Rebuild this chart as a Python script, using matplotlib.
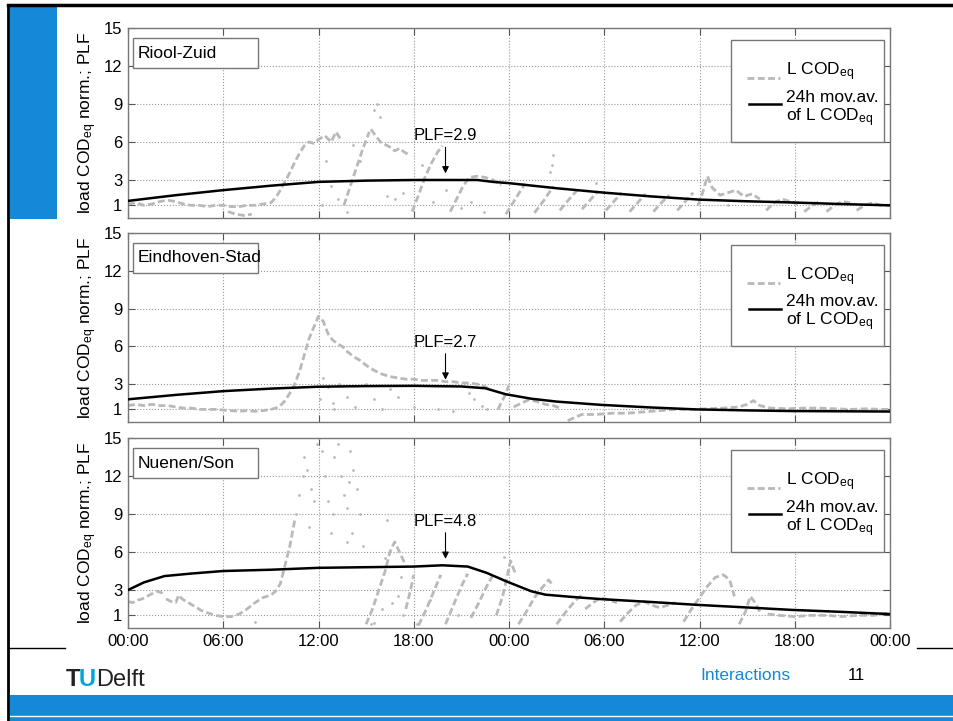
import matplotlib
matplotlib.use("Agg")
import matplotlib.pyplot as plt
from matplotlib.patches import Rectangle
from matplotlib.lines import Line2D
import numpy as np

plt.rcParams['font.family'] = ['Liberation Sans', 'DejaVu Sans']
plt.rcParams['mathtext.fontset'] = 'custom'
plt.rcParams['mathtext.rm'] = 'Liberation Sans'
plt.rcParams['mathtext.it'] = 'Liberation Sans:italic'

nan = np.nan

stations = ["Riool-Zuid", "Eindhoven-Stad", "Nuenen/Son"]
plf_values = [2.9, 2.7, 4.8]
plf_hour = 20.0
hour_ticks = [0, 6, 12, 18, 24, 30, 36, 42, 48]
hour_labels = ["00:00", "06:00", "12:00", "18:00", "00:00", "06:00", "12:00", "18:00", "00:00"]
y_ticks = [1, 3, 6, 9, 12, 15]

# 24h moving average (black)
ma_t1 = [0, 3, 6, 9, 12, 15, 18, 21, 22, 23, 24, 27, 30, 33, 36, 39, 42, 45, 48]
ma_v1 = [1.35, 1.8, 2.2, 2.55, 2.85, 2.95, 3.0, 3.0, 3.0, 2.85, 2.75, 2.35, 2.0, 1.7, 1.45, 1.32, 1.22, 1.1, 1.0]
ma_t2 = [0, 3, 6, 9, 12, 15, 18, 21, 22.5, 23.8, 25.4, 27, 29.8, 33, 35.8, 39, 41.8, 45, 48]
ma_v2 = [1.8, 2.15, 2.45, 2.65, 2.8, 2.85, 2.87, 2.82, 2.68, 2.2, 1.85, 1.62, 1.36, 1.15, 1.0, 0.92, 0.87, 0.85, 0.83]
ma_t3 = [0, 1, 2.3, 4, 6, 9, 12, 15, 18, 19.8, 21.4, 22.6, 23.8, 25.4, 26.3, 28, 29.8, 33, 35.8, 39, 41.8, 45, 48]
ma_v3 = [3.0, 3.6, 4.1, 4.3, 4.5, 4.6, 4.75, 4.8, 4.85, 4.95, 4.85, 4.35, 3.7, 2.9, 2.63, 2.45, 2.28, 2.05, 1.83, 1.62, 1.43, 1.27, 1.1]

# L COD_eq (grey), nan = gap in the record
cod_t1 = [0, 0.5, 1, 1.5, 2, 2.5, 3, 3.5, 4, 4.5, 5, 5.5, 6, 6.5, 7, 7.5, 8, 8.5, 9, 9.3, 9.6, 9.9, 10.2, 10.5, 10.8,
          11.1, 11.4, 11.7, 12, 12.4, 12.8, 13.1, 13.4, nan,
          6.3, 6.8, 7.3, 7.8, nan,
          13.6, 14.0, 14.4, 14.8, 15.2, nan,
          15.3, 15.6, 15.9, 16.2, 16.5, 16.8, 17.1, 17.4, 17.7, nan,
          17.9, 18.3, 18.7, 19.1, 19.5, 19.8, nan,
          20.3, 20.7, 21.1, 21.5, 22.0, 22.5, 23.0, 23.5, nan,
          23.8, 24.4, 25.0, nan, 25.6, 26.2, 26.8, nan, 27.2, 27.8, 28.3, nan, 28.6, 29.1, 29.6, nan,
          30.1, 30.6, 31.1, nan, 31.6, 32.1, 32.6, nan, 33.1, 33.6, 34.1, nan, 34.6, 35.1, 35.6, nan,
          35.9, 36.2, 36.5, 36.8, 37.3, 37.8, 38.3, 38.8, 39.3, 39.8, nan,
          40.2, 40.7, 41.2, 41.7, 42.2, nan, 42.6, 43.1, 43.6, nan, 44.0, 44.5, 45.0, 45.5, nan,
          45.9, 46.4, 46.9, 47.4, 48]
cod_v1 = [1.1, 1.2, 1.0, 1.1, 1.3, 1.4, 1.3, 1.1, 1.0, 1.0, 0.9, 1.0, 1.0, 0.9, 0.9, 1.0, 1.0, 1.1, 1.2, 1.6, 2.2, 2.9, 3.6, 4.4, 5.1,
          5.7, 6.0, 5.9, 6.2, 6.5, 6.0, 6.8, 6.2, nan,
          0.5, 0.3, 0.2, 0.3, nan,
          1.0, 2.5, 4.0, 5.5, 6.8, nan,
          7.0, 6.5, 6.0, 5.8, 5.6, 5.3, 5.5, 5.2, 5.0, nan,
          0.5, 1.8, 3.2, 4.3, 5.2, 5.7, nan,
          0.5, 1.5, 2.5, 3.2, 3.3, 3.2, 3.0, 2.6, nan,
          0.3, 1.5, 2.7, nan, 0.4, 1.4, 2.5, nan, 0.6, 1.5, 2.2, nan, 0.7, 1.4, 2.1, nan,
          0.6, 1.3, 2.0, nan, 0.5, 1.2, 1.9, nan, 0.5, 1.2, 1.8, nan, 0.6, 1.3, 2.0, nan,
          1.0, 2.0, 3.3, 2.4, 1.8, 2.0, 2.2, 1.7, 1.9, 1.5, nan,
          0.6, 1.2, 1.5, 1.3, 1.1, nan, 0.5, 1.0, 1.3, nan, 0.5, 1.0, 1.3, 1.2, nan,
          0.6, 1.0, 1.2, 1.0, 1.0]
dot_t1 = [12.2, 12.5, 12.8, 13.2, 13.8, 14.2, 14.6, 15.5, 15.7, 15.9, 16.3, 16.8, 17.3, 18.5, 19.2, 20.0, 21.0,
          21.6, 22.4, 26.6, 26.7, 26.8, 29.5, 37.8]
dot_v1 = [1.0, 4.5, 2.5, 1.5, 0.5, 5.8, 4.5, 8.5, 9.0, 8.0, 1.7, 1.5, 2.0, 4.2, 1.3, 2.2, 0.8,
          1.3, 0.5, 3.6, 4.2, 5.0, 2.8, 1.0]

cod_t2 = [0, 0.5, 1, 1.5, 2, 2.5, 3, 3.5, 4, 4.5, 5, 5.5, 6, 6.5, 7, 7.5, 8, 8.5, 9, 9.3, 9.6, 9.9, 10.2, 10.5,
          10.8, 11.1, 11.4, 11.7, 12.0, 12.3, 12.6, 12.9, 13.2, 13.5, 13.8, 14.2, 14.6, 15, 15.5, 16, 16.5, 17,
          17.5, 18, 18.5, 19, 19.5, 20, 20.5, 21, 21.5, 22, 22.5, 22.8, nan,
          23.3, 23.7, 24.0, nan,
          24.3, 24.8, 25.3, 25.8, 26.3, 26.8, 27.2, nan,
          27.7, 28.2, 28.6, 29.5, 30.5, 31.5, 32.5, 33.5, 34.5, 35.5, 36.5, 37.5, 38.5, 39.0, 39.4, 39.8,
          40.5, 41.5, 42.5, 43.5, 44.5, 45.5, 46.5, 47.5, 48]
cod_v2 = [1.3, 1.4, 1.3, 1.4, 1.3, 1.3, 1.2, 1.1, 1.1, 1.0, 1.0, 1.0, 0.95, 0.9, 0.85, 0.9, 0.85, 0.9, 1.0, 1.1,
          1.3, 1.7, 2.3, 3.0, 4.0, 5.3, 6.6, 7.5, 8.4, 8.0, 7.0, 6.5, 6.2, 6.0, 5.6, 5.2, 4.9, 4.5, 4.1, 3.8, 3.6,
          3.5, 3.4, 3.4, 3.3, 3.3, 3.3, 3.2, 3.2, 3.1, 3.1, 3.0, 2.8, 2.6, nan,
          1.0, 2.0, 2.9, nan,
          1.2, 1.5, 1.8, 1.6, 1.4, 1.3, 1.1, nan,
          0.1, 0.4, 0.6, 0.6, 0.7, 0.7, 0.8, 0.9, 1.0, 1.0, 1.05, 1.1, 1.2, 1.4, 1.7, 1.3,
          1.1, 1.05, 1.1, 1.1, 1.05, 1.0, 1.05, 1.0, 1.0]
dot_t2 = [12.1, 12.3, 12.6, 12.9, 13.0, 13.3, 13.8, 14.3, 15, 15.5, 16, 16.5, 17, 18, 19.5, 20.5, 21.5, 21.8,
          22.3, 22.6]
dot_v2 = [1.8, 3.5, 2.8, 1.5, 1.0, 3.0, 2.0, 1.2, 3.0, 1.8, 1.0, 2.6, 2.0, 1.2, 1.0, 0.9, 2.3, 1.8,
          1.3, 1.0]

cod_t3 = [0, 0.3, 0.6, 0.9, 1.2, 1.5, 1.8, 2.1, 2.3, nan,
          2.4, 2.7, 3.0, 3.2, 3.4, 3.8, 4.2, 4.6, 5.0, 5.5, 6.0, 6.5, 7.0, 7.5, 8.0, 8.5, 9.0, 9.3, 9.6, 9.9,
          10.2, 10.5, nan,
          15.0, 15.4, 15.8, 16.2, 16.5, 16.8, 17.1, 17.4, nan,
          17.5, 17.8, 18.0, nan,
          18.3, 18.8, 19.3, 19.7, nan,
          20.0, 20.5, 21.0, 21.4, nan,
          21.6, 22.1, 22.6, 23.0, nan,
          23.2, 23.6, 23.9, 24.1, 24.4, nan,
          24.6, 25.1, 25.6, 26.1, 26.5, 26.8, nan,
          27.0, 27.6, 28.2, 28.6, nan,
          28.8, 29.3, 29.8, 30.3, 30.8, nan,
          31.0, 31.5, 32.0, 32.5, 33.0, 33.5, 34.0, 34.5, nan,
          35.0, 35.5, 36.0, 36.5, 37.0, 37.5, 37.9, 38.2, nan,
          38.5, 38.9, 39.2, 39.5, 39.8, nan,
          40.3, 41, 42, 43, 44, 45, 46, 47, 48]
cod_v3 = [2.1, 2.0, 2.2, 2.3, 2.5, 2.7, 2.9, 2.8, 2.5, nan,
          2.3, 2.1, 2.0, 2.6, 2.3, 2.0, 1.7, 1.4, 1.2, 1.0, 0.9, 0.9, 1.1, 1.5, 2.0, 2.4, 2.6, 2.9, 3.5, 5.0,
          6.5, 8.5, nan,
          0.3, 1.5, 3.0, 4.5, 6.0, 6.8, 6.0, 5.2, nan,
          1.5, 3.0, 4.2, nan,
          0.2, 1.5, 3.0, 4.2, nan,
          0.3, 1.8, 3.3, 4.3, nan,
          0.8, 2.0, 3.3, 4.2, nan,
          1.0, 2.5, 4.2, 5.3, 4.3, nan,
          0.3, 1.3, 2.4, 3.2, 3.8, 3.3, nan,
          0.3, 1.3, 2.2, 2.6, nan,
          1.5, 2.0, 2.4, 2.2, 2.0, nan,
          0.5, 1.2, 1.8, 2.1, 1.8, 1.6, 1.8, 2.0, nan,
          0.5, 1.5, 2.4, 3.3, 4.0, 4.2, 3.8, 2.5, nan,
          0.3, 1.3, 2.5, 2.0, 1.3, nan,
          1.1, 1.0, 0.9, 1.0, 1.0, 0.9, 1.0, 1.0, 1.2]
dot_t3 = [10.6, 10.8, 11.0, 11.1, 11.3, 11.4, 11.5, 11.7, 11.9, 12.0, 12.2, 12.4, 12.6, 12.8, 12.9, 13.0, 13.2,
          13.4, 13.6, 13.8, 13.9, 14.0, 14.1, 14.2, 14.4, 14.6, 14.8, 13.8, 15.3, 15.5, 16.0, 16.2, 16.3, 16.6,
          17.0, 17.2, 17.3, 18.2, 19.0, 20.8, 23.7, 24.0, 8.0]
dot_v3 = [9.0, 10.5, 12.0, 13.5, 12.5, 8.0, 11.0, 10.0, 14.5, 15.0, 14.0, 12.0, 10.0, 7.5, 9.0, 13.5, 14.5,
          12.0, 10.5, 9.5, 11.5, 14.0, 7.5, 12.5, 11.0, 9.0, 6.5, 6.8, 0.3, 0.4, 1.5, 5.5, 8.5, 2.0,
          2.5, 4.0, 1.0, 0.3, 2.2, 1.0, 5.6, 5.0, 0.5]

ma_t = [ma_t1, ma_t2, ma_t3]
ma_v = [ma_v1, ma_v2, ma_v3]
cod_t = [cod_t1, cod_t2, cod_t3]
cod_v = [cod_v1, cod_v2, cod_v3]
dot_t = [dot_t1, dot_t2, dot_t3]
dot_v = [dot_v1, dot_v2, dot_v3]

W, H = 954, 721
fig = plt.figure(figsize=(W / 100, H / 100), dpi=100)

# slide decoration
blue = '#1589d6'
fig.add_artist(Rectangle((10 / W, 1 - 219 / H), 47 / W, 212 / H, transform=fig.transFigure, color=blue, lw=0))
fig.add_artist(Rectangle((10 / W, 0), 944 / W, 26 / H, transform=fig.transFigure, color=blue, lw=0))
fig.add_artist(Line2D([10 / W, 1], [5 / H, 5 / H], transform=fig.transFigure, color='white', lw=1))
fig.add_artist(Line2D([8 / W, 8 / W], [0, 1 - 5 / H], transform=fig.transFigure, color='black', lw=2))
fig.add_artist(Line2D([8 / W, 1], [1 - 5 / H, 1 - 5 / H], transform=fig.transFigure, color='black', lw=2.5))
fig.add_artist(Line2D([10 / W, 65 / W], [1 - 648 / H, 1 - 648 / H], transform=fig.transFigure, color='black', lw=1))
fig.add_artist(Line2D([917 / W, 1], [1 - 648 / H, 1 - 648 / H], transform=fig.transFigure, color='black', lw=1))

fig.text(66 / W, 1 - 680 / H, "T", fontsize=17, fontweight='bold', color='#222222', va='center')
fig.text(79 / W, 1 - 680 / H, "U", fontsize=17, fontweight='bold', color='#00a6d6', va='center')
fig.text(96 / W, 1 - 680 / H, "Delft", fontsize=17, color='#222222', va='center')
fig.text(700 / W, 1 - 676 / H, "Interactions", fontsize=12.5, color=blue, va='center')
fig.text(848 / W, 1 - 676 / H, "11", fontsize=12, color='black', va='center')

# panels: top/bottom pixel rows
panel_rows = [(28, 218), (233, 422), (438, 628)]
left, right = 128, 890

for i, (top, bottom) in enumerate(panel_rows):
    ax = fig.add_axes([left / W, 1 - bottom / H, (right - left) / W, (bottom - top) / H])
    ax.plot(cod_t[i], cod_v[i], color='#b9b9b9', lw=2, ls=(0, (2.5, 1.2)), zorder=2)
    ax.plot(dot_t[i], dot_v[i], ls='none', marker='o', ms=2, color='#b9b9b9', mec='none', zorder=2)
    ax.plot(ma_t[i], ma_v[i], color='black', lw=1.8, zorder=3)

    ax.set_xlim(0, 48)
    ax.set_ylim(0, 15)
    ax.set_xticks(hour_ticks)
    ax.set_yticks(y_ticks)
    if i == 2:
        ax.set_xticklabels(hour_labels, fontsize=12)
    else:
        ax.set_xticklabels([])
    ax.tick_params(labelsize=12, direction='in', top=True, right=True, length=5, width=0.8,
                   color='#555555', pad=4)
    ax.grid(True, ls=':', color='#999999', lw=0.8)
    for sp in ax.spines.values():
        sp.set_color('#777777')
        sp.set_linewidth(1)
    ax.set_ylabel(r'load COD$_{\mathrm{eq}}$ norm.; PLF', fontsize=12.5)
    ax.yaxis.set_label_coords(-0.038, 0.5)

    # station label box
    ax.add_patch(Rectangle((0.0066, 0.79), 0.164, 0.158, transform=ax.transAxes,
                           facecolor='white', edgecolor='#777777', lw=1, zorder=5))
    ax.text(0.012, 0.868, stations[i], transform=ax.transAxes, fontsize=12.5, va='center', zorder=6)

    # legend box
    ax.add_patch(Rectangle((0.791, 0.40), 0.201, 0.537, transform=ax.transAxes,
                           facecolor='white', edgecolor='#777777', lw=1, zorder=5))
    ax.add_line(Line2D([0.812, 0.855], [0.735, 0.735], transform=ax.transAxes, color='#b9b9b9',
                       lw=2, ls=(0, (2.5, 1.2)), zorder=6))
    ax.add_line(Line2D([0.815, 0.857], [0.60, 0.60], transform=ax.transAxes, color='black',
                       lw=1.8, zorder=6))
    ax.text(0.864, 0.77, r'L COD$_{\mathrm{eq}}$', transform=ax.transAxes, fontsize=12.5,
            va='center', zorder=6)
    ax.text(0.864, 0.635, '24h mov.av.', transform=ax.transAxes, fontsize=12.5, va='center', zorder=6)
    ax.text(0.864, 0.53, r'of L COD$_{\mathrm{eq}}$', transform=ax.transAxes, fontsize=12.5,
            va='center', zorder=6)

    # PLF arrow
    y_line = np.interp(plf_hour, ma_t[i], ma_v[i])
    ax.annotate('', xy=(plf_hour, y_line + 0.3), xytext=(plf_hour, y_line + 2.8),
                arrowprops=dict(arrowstyle='-|>', color='black', lw=0.8, mutation_scale=10), zorder=6)
    ax.text(plf_hour, y_line + 2.9, 'PLF=%.1f' % plf_values[i], ha='center', va='bottom',
            fontsize=12, zorder=6)

fig.savefig('out.png', dpi=100)
